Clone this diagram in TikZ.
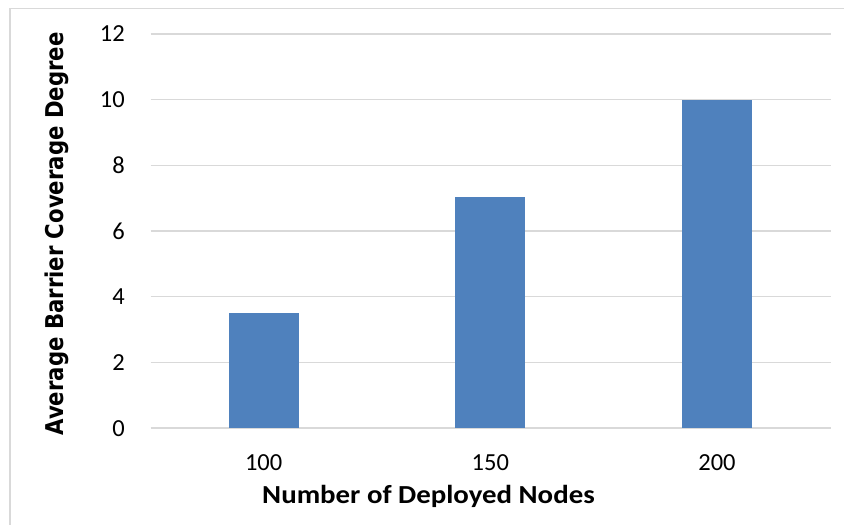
\documentclass[tikz,border=0pt]{standalone}
\usepackage{graphicx}
\usepackage{fontspec}
\setmainfont{Carlito}
\newfontfamily\ytitlefont{DejaVu Sans}
\definecolor{barblue}{HTML}{4F81BD}
\definecolor{gridgray}{HTML}{D9D9D9}
\begin{document}
\begin{tikzpicture}[x=1pt,y=-1pt,
  gridline/.style={gridgray, line width=1.5pt},
  frameline/.style={gridgray, line width=1.2pt},
  barstyle/.style={fill=barblue, draw=none},
  ticklab/.style={inner sep=0pt, font=\fontsize{24.5}{28}\selectfont},
  axtitle/.style={inner sep=0pt, font=\fontsize{26}{30}\selectfont\bfseries}]
\useasboundingbox (0,0) rectangle (844,525);
\draw[frameline] (10,530) -- (10,8.5) -- (850,8.5);
\foreach \i in {0,...,6}{
  \pgfmathsetmacro{\yy}{428.2-\i*65.73}
  \pgfmathtruncatemacro{\val}{2*\i}
  \draw[gridline] (150.7,\yy) -- (830.7,\yy);
  \node[ticklab, anchor=east] (t\i) at (125,\yy) {\val};
}
% bars
\fill[barstyle] (228.7,428.2) rectangle (298.7,{428.2-3.52*32.865});
\fill[barstyle] (455.3,428.2) rectangle (525.3,{428.2-7.05*32.865});
\fill[barstyle] (682.0,428.2) rectangle (752.0,{428.2-10*32.865});
% category labels
\node[ticklab] (c1) at (263.7,462.5) {100};
\node[ticklab] (c2) at (490.3,462.5) {150};
\node[ticklab] (c3) at (717.0,462.5) {200};
% axis titles
\node[axtitle, anchor=base] (xt) at (428.5,503) {\scalebox{1.11}[1]{Number of Deployed Nodes}};
\node[inner sep=0pt, rotate=90, anchor=base, font=\fontsize{24.5}{29}\selectfont\ytitlefont\bfseries] (yt) at (63,234) {\scalebox{0.866}[1]{Average Barrier Coverage Degree}};
\end{tikzpicture}
\end{document}
